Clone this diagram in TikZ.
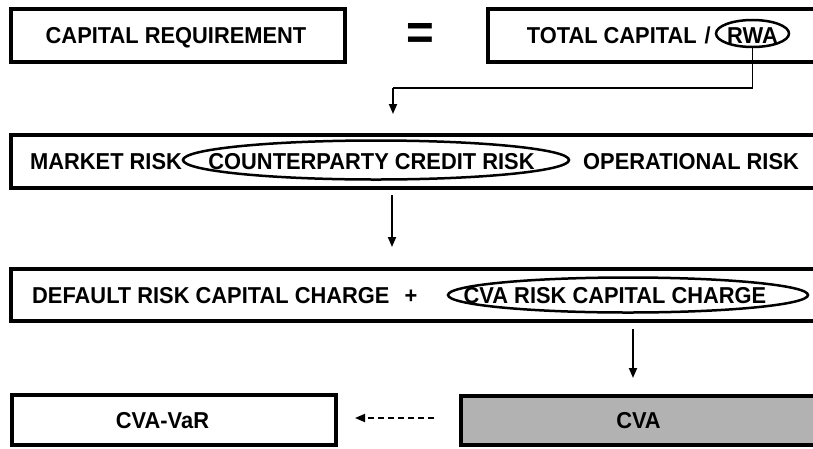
\documentclass[tikz,border=0pt]{standalone}
\usepackage{fontspec}
\setmainfont{Liberation Sans}[FakeStretch=0.95]
\usetikzlibrary{arrows.meta,shapes.geometric}
\begin{document}
\begin{tikzpicture}[x=1pt,y=-1pt,
  boxn/.style={draw, rectangle, line width=3.5pt, inner sep=0pt},
  ringn/.style={draw, ellipse, line width=2.5pt, inner sep=0pt},
  txt/.style={font=\fontsize{23}{27}\selectfont\bfseries, text height=16.5pt, text depth=0pt, inner sep=0pt},
  conn/.style={line width=1.8pt, -{Triangle[length=10pt,width=8pt]}},
  dconn/.style={conn, dash pattern=on 6pt off 4pt}]
\useasboundingbox (0,0) rectangle (813,448);
\clip (0,0) rectangle (813,448);
% row 1
\node[boxn, minimum width=334pt, minimum height=53pt] (capbox) at (178,35.5) {};
\node[txt] (captxt) at (176,35.5) {CAPITAL REQUIREMENT};
\node[font=\fontsize{50}{50}\bfseries\selectfont, inner sep=0pt, anchor=base] (eq) at (420,49) {=};
\node[boxn, minimum width=342pt, minimum height=53pt] (totbox) at (659,35.5) {};
\node[txt, anchor=east] (tottxt) at (711,35.5) {TOTAL CAPITAL\hspace{8pt}/};
\node[ringn, minimum width=73pt, minimum height=27pt] (rwaell) at (752.5,33.5) {};
\node[txt] (rwatxt) at (752.5,35.5) {RWA};
% row 2
\node[boxn, minimum width=819pt, minimum height=53pt] (riskbox) at (420.5,161.5) {};
\node[txt, anchor=west] (mkt) at (30,161.5) {MARKET RISK};
\node[ringn, minimum width=386pt, minimum height=39pt] (ccrell) at (376,160) {};
\node[txt] (ccr) at (371.5,161.5) {COUNTERPARTY CREDIT RISK};
\node[txt, anchor=west] (oper) at (583,161.5) {OPERATIONAL RISK};
% row 3
\node[boxn, minimum width=819pt, minimum height=52pt] (chbox) at (420.5,295) {};
\node[txt, anchor=west] (drc) at (32,295) {DEFAULT RISK CAPITAL CHARGE};
\node[txt] (plus) at (411,295) {+};
\node[ringn, minimum width=360pt, minimum height=35pt] (cvaell) at (628,295) {};
\node[txt] (cvarc) at (615,295) {CVA RISK CAPITAL CHARGE};
% row 4
\node[boxn, minimum width=324pt, minimum height=50pt] (varbox) at (174,420) {};
\node[txt] (vartxt) at (162.5,420) {CVA-VaR};
\node[boxn, fill=black!30, minimum width=369pt, minimum height=49pt] (cvabox) at (645.5,420.5) {};
\node[txt] (cvatxt) at (638.5,420.5) {CVA};
% connectors
\coordinate (a1turn) at (393,88);
\coordinate (a1end) at (393,114);
\draw[line width=1.8pt] (rwaell.south) |- (a1turn);
\draw[conn] (a1turn) -- (a1end);
\coordinate (a2s) at (392,195);
\coordinate (a2e) at (392,247);
\draw[conn] (a2s) -- (a2e);
\coordinate (a3s) at (633,329);
\coordinate (a3e) at (633,378);
\draw[conn] (a3s) -- (a3e);
\coordinate (a4s) at (434,418);
\coordinate (a4e) at (355,418);
\draw[dconn] (a4s) -- (a4e);
\end{tikzpicture}
\end{document}
